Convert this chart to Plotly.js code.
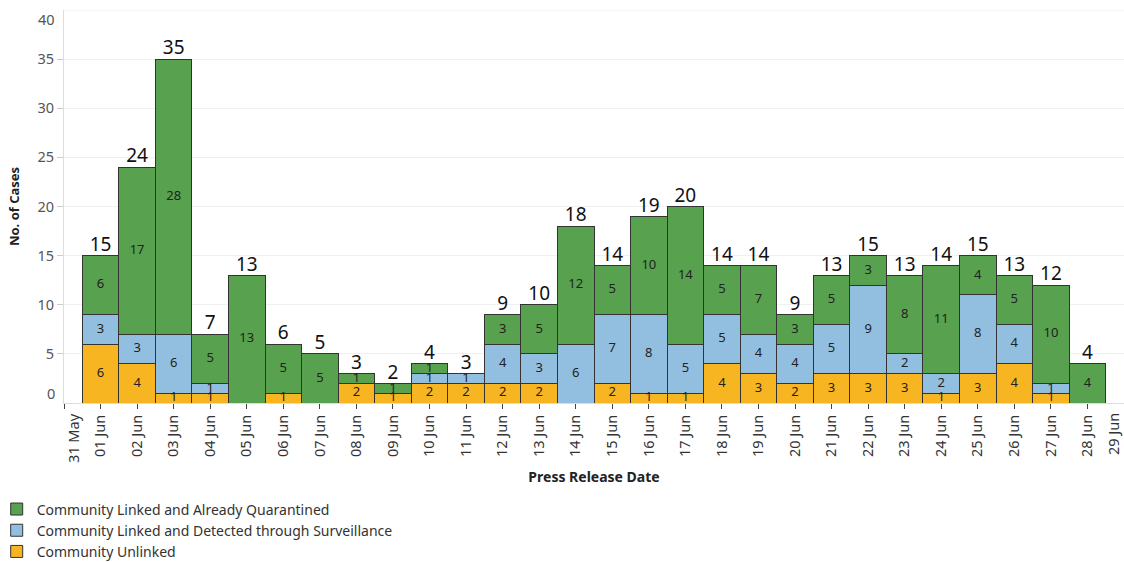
<!DOCTYPE html>
<html>
<head>
<meta charset="utf-8">
<script src="https://cdn.plot.ly/plotly-3.0.1.min.js"></script>
<style>html,body{margin:0;padding:0;background:#fff;}#chart{width:1124px;height:562px;}</style>
</head>
<body>
<div id="chart"></div>
<script>
// ---- data ----
const dates = ['2020-06-01','2020-06-02','2020-06-03','2020-06-04','2020-06-05','2020-06-06','2020-06-07',
  '2020-06-08','2020-06-09','2020-06-10','2020-06-11','2020-06-12','2020-06-13','2020-06-14',
  '2020-06-15','2020-06-16','2020-06-17','2020-06-18','2020-06-19','2020-06-20','2020-06-21',
  '2020-06-22','2020-06-23','2020-06-24','2020-06-25','2020-06-26','2020-06-27','2020-06-28'];
const unlinked     = [6,4,1,1,0,1,0,2,1,2,2,2,2,0,2,1,1,4,3,2,3,3,3,1,3,4,1,0];
const surveillance = [3,3,6,1,0,0,0,0,0,1,1,4,3,6,7,8,5,5,4,4,5,9,2,2,8,4,1,0];
const quarantined  = [6,17,28,5,13,5,5,1,1,1,0,3,5,12,5,10,14,5,7,3,5,3,8,11,4,5,10,4];
const tickDates = ['2020-05-31','2020-06-01','2020-06-02','2020-06-03','2020-06-04','2020-06-05','2020-06-06',
  '2020-06-07','2020-06-08','2020-06-09','2020-06-10','2020-06-11','2020-06-12','2020-06-13',
  '2020-06-14','2020-06-15','2020-06-16','2020-06-17','2020-06-18','2020-06-19','2020-06-20',
  '2020-06-21','2020-06-22','2020-06-23','2020-06-24','2020-06-25','2020-06-26','2020-06-27','2020-06-28'];
const tickLabels = ['','01 Jun','02 Jun','03 Jun','04 Jun','05 Jun','06 Jun','07 Jun','08 Jun','09 Jun',
  '10 Jun','11 Jun','12 Jun','13 Jun','14 Jun','15 Jun','16 Jun','17 Jun','18 Jun','19 Jun','20 Jun',
  '21 Jun','22 Jun','23 Jun','24 Jun','25 Jun','26 Jun','27 Jun','28 Jun'];
const firstTickDate = '2020-05-31';
const firstTickLabel = '31 May';
const lastTickDate = '2020-06-29';
const lastTickLabel = '29 Jun';
const seriesNames = ['Community Unlinked','Community Linked and Detected through Surveillance','Community Linked and Already Quarantined'];

// ---- styles ----
const colors = ['#F8B522','#92BFE0','#58A14E'];
const FONT = '"Noto Sans", "Open Sans", sans-serif';
const DAY = 86400000;

const series = [unlinked, surveillance, quarantined];
const traces = [];
series.forEach((vals, i) => {
  traces.push({
    type: 'bar', x: dates, y: vals, name: seriesNames[i], width: DAY,
    marker: {color: colors[i], line: {color: '#333', width: 1}},
    hoverinfo: 'skip'
  });
});
// segment labels
series.forEach((vals, i) => {
  const mids = vals.map((v, k) => {
    let base = 0;
    for (let j = 0; j < i; j++) base += series[j][k];
    return base + v / 2;
  });
  traces.push({
    type: 'scatter', mode: 'text', x: dates, y: mids,
    text: vals.map(v => v > 0 ? String(v) : ''),
    textposition: 'middle center',
    textfont: {family: FONT, size: 13, color: '#222'},
    showlegend: false, hoverinfo: 'skip', cliponaxis: false
  });
});
// totals
const totals = dates.map((d, k) => unlinked[k] + surveillance[k] + quarantined[k]);
traces.push({
  type: 'scatter', mode: 'text', x: dates, y: totals,
  text: totals.map(String), textposition: 'top center',
  textfont: {family: FONT, size: 19, color: '#111'},
  showlegend: false, hoverinfo: 'skip', cliponaxis: false
});

const layout = {
  width: 1124, height: 562,
  margin: {l: 64, r: 0, t: 10, b: 159, autoexpand: false},
  paper_bgcolor: '#fff', plot_bgcolor: '#fff',
  barmode: 'stack', bargap: 0,
  font: {family: FONT, color: '#333'},
  showlegend: true,
  legend: {
    xref: 'paper', yref: 'container', x: -0.0635, y: 0.122, xanchor: 'left', yanchor: 'top',
    orientation: 'v', traceorder: 'reversed', itemwidth: 30,
    font: {family: FONT, size: 14, color: '#333'}, itemclick: false, tracegroupgap: 0
  },
  xaxis: {
    type: 'date', range: ['2020-05-31', '2020-06-29'],
    tickvals: tickDates, ticktext: tickLabels, tickangle: -90,
    ticks: 'outside', ticklen: 5, tickcolor: '#444', tickwidth: 1,
    tickfont: {family: FONT, size: 14.5, color: '#333'},
    showgrid: false, showline: true, linecolor: '#ddd', linewidth: 1,
    title: {text: 'Press Release Date', font: {family: FONT, size: 14, color: '#222', weight: 'bold'}, standoff: 16},
    automargin: true, fixedrange: true
  },
  yaxis: {
    range: [0, 40], tickvals: [5,10,15,20,25,30,35],
    ticks: 'outside', ticklen: 6, tickcolor: '#ccc',
    tickfont: {family: FONT, size: 14.5, color: '#555'},
    showgrid: true, gridcolor: '#f0f0f0', zeroline: false,
    showline: true, linecolor: '#ddd', linewidth: 1,
    title: {text: 'No. of Cases', font: {family: FONT, size: 13, color: '#222', weight: 'bold'}, standoff: 14},
    automargin: true, fixedrange: true
  },
  shapes: [{type: 'line', xref: 'paper', yref: 'y', x0: 0, x1: 1, y0: 40, y1: 40, line: {color: '#f0f0f0', width: 1}}],
  annotations: [
    {xref: 'paper', yref: 'y', x: 0, y: 0, text: '0', showarrow: false, xanchor: 'right', xshift: -7, yshift: 10,
     font: {family: FONT, size: 14.5, color: '#555'}},
    {xref: 'paper', yref: 'y', x: 0, y: 40, text: '40', showarrow: false, xanchor: 'right', xshift: -7, yshift: -9,
     font: {family: FONT, size: 14.5, color: '#555'}},
    {xref: 'x', yref: 'paper', x: firstTickDate, y: 0, text: firstTickLabel, showarrow: false, textangle: -90,
     yanchor: 'top', yshift: -8, xshift: 9, font: {family: FONT, size: 14.5, color: '#333'}},
    {xref: 'x', yref: 'paper', x: lastTickDate, y: 0, text: lastTickLabel, showarrow: false, textangle: -90,
     yanchor: 'top', yshift: -8, xshift: -11, font: {family: FONT, size: 14.5, color: '#333'}}
  ]
};

Plotly.newPlot('chart', traces, layout, {displayModeBar: false, staticPlot: true});
</script>
</body>
</html>
